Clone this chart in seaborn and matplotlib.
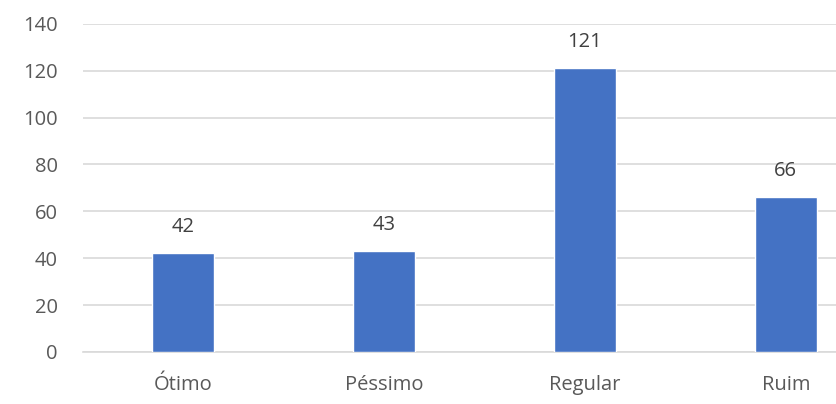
import matplotlib
matplotlib.use("Agg")
import matplotlib.pyplot as plt
import seaborn as sns
import pandas as pd

categories = ["Ótimo", "Péssimo", "Regular", "Ruim"]
values = [42, 43, 121, 66]

sns.set_theme(style="white")
plt.rcParams["font.family"] = ["Open Sans", "DejaVu Sans"]

df = pd.DataFrame({"categoria": categories, "valor": values})

fig = plt.figure(figsize=(8.36, 4.04), dpi=100)
ax = fig.add_axes([0.099, 0.129, 0.901, 0.812])

sns.barplot(data=df, x="categoria", y="valor", color="#4472C4",
            width=0.31, saturation=1, ax=ax, zorder=3)

for i, v in enumerate(values):
    ax.text(i, v + 7, str(v), ha="center", va="bottom",
            fontsize=14.5, color="#404040")

ax.set_ylim(0, 140)
ax.set_yticks(range(0, 141, 20))
ax.set_xlim(-0.5, 3.25)
ax.yaxis.grid(True, color="#d9d9d9", linewidth=1.2, zorder=0)
ax.set_axisbelow(True)
for s in ["top", "right", "left"]:
    ax.spines[s].set_visible(False)
ax.spines["bottom"].set_color("#d9d9d9")
ax.spines["bottom"].set_linewidth(1.2)
ax.set_xlabel("")
ax.set_ylabel("")
ax.tick_params(axis="both", length=0, labelsize=14.5, colors="#595959")
ax.tick_params(axis="y", pad=18)
ax.tick_params(axis="x", pad=17)

fig.savefig("out.png", dpi=100)
